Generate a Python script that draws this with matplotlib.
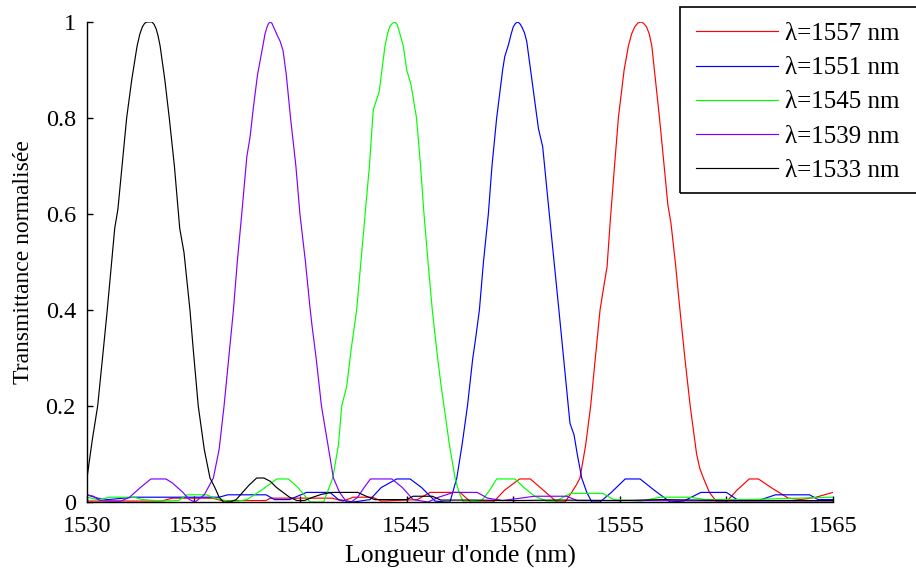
import matplotlib
matplotlib.use("Agg")
import matplotlib.pyplot as plt
from matplotlib.patches import Rectangle

plt.rcParams['font.family'] = ['Liberation Serif', 'DejaVu Serif']

# (wavelength nm, normalised transmittance)
black_pts = [
    (1530.0, 0.05), (1530.25, 0.13), (1530.5, 0.2), (1530.75, 0.31), (1530.95, 0.4),
    (1531.3, 0.57), (1531.45, 0.61), (1531.86, 0.8),
    (1532.1, 0.88), (1532.35, 0.95), (1532.48, 0.975), (1532.6, 0.99), (1532.7, 0.997),
    (1532.8, 1.0), (1533.05, 1.0), (1533.15, 0.995),
    (1533.25, 0.985), (1533.34, 0.97), (1533.43, 0.95), (1533.65, 0.88), (1533.86, 0.8),
    (1534.1, 0.7),
    (1534.35, 0.57), (1534.55, 0.52), (1534.83, 0.4), (1535.0, 0.31),
    (1535.22, 0.2), (1535.5, 0.11), (1535.77, 0.05), (1536.0, 0.03), (1536.2, 0.01),
    (1536.4, 0.0), (1536.7, 0.0), (1537.0, 0.005), (1537.3, 0.02), (1537.6, 0.035),
    (1537.96, 0.05), (1538.3, 0.05), (1538.6, 0.043), (1538.9, 0.03), (1539.2, 0.02),
    (1539.5, 0.01), (1539.85, 0.003), (1540.2, 0.003), (1540.6, 0.01), (1541.0, 0.016),
    (1541.5, 0.02), (1542.0, 0.02), (1542.7, 0.02), (1543.1, 0.012), (1543.5, 0.005),
    (1544.0, 0.005), (1545.0, 0.005), (1545.3, 0.012), (1546.2, 0.012), (1546.6, 0.004),
    (1548.0, 0.004), (1550.0, 0.003), (1552.0, 0.004), (1555.0, 0.003), (1557.0, 0.005),
    (1560.0, 0.003), (1565.0, 0.003),
]

purple_pts = [
    (1530.0, 0.015), (1530.3, 0.012), (1530.6, 0.003), (1531.0, 0.002), (1531.6, 0.002),
    (1532.0, 0.01), (1532.5, 0.03), (1533.0, 0.048), (1533.7, 0.048), (1534.0, 0.04),
    (1534.5, 0.02), (1534.8, 0.005), (1535.07, 0.0), (1535.5, 0.015), (1535.93, 0.05),
    (1536.2, 0.11), (1536.43, 0.2), (1536.65, 0.3), (1536.87, 0.4), (1537.05, 0.5),
    (1537.26, 0.6), (1537.5, 0.72), (1537.65, 0.76), (1537.8, 0.82), (1538.0, 0.89),
    (1538.25, 0.95), (1538.35, 0.975), (1538.45, 0.99), (1538.52, 0.997), (1538.6, 1.0),
    (1538.68, 0.997), (1538.75, 0.99), (1538.95, 0.97),
    (1539.06, 0.96), (1539.2, 0.94), (1539.35, 0.89), (1539.55, 0.8), (1539.8, 0.7),
    (1539.99, 0.6), (1540.25, 0.5), (1540.45, 0.41), (1540.55, 0.37), (1540.75, 0.3),
    (1541.0, 0.2), (1541.3, 0.12), (1541.56, 0.05), (1541.85, 0.02), (1542.18, 0.0),
    (1542.4, 0.0), (1542.7, 0.01), (1543.0, 0.03), (1543.3, 0.048), (1544.3, 0.048),
    (1544.8, 0.03), (1545.3, 0.005), (1546.0, 0.0), (1546.5, 0.01), (1547.2, 0.02),
    (1548.3, 0.02), (1548.8, 0.008), (1549.5, 0.003), (1551.0, 0.012), (1552.5, 0.012),
    (1553.0, 0.003), (1556.0, 0.003), (1560.0, 0.002), (1565.0, 0.002),
]

green_pts = [
    (1530.0, 0.01), (1530.5, 0.005), (1531.1, 0.01), (1532.2, 0.01), (1532.6, 0.005),
    (1533.5, 0.002), (1534.3, 0.003), (1534.68, 0.015), (1535.6, 0.015), (1536.0, 0.008),
    (1536.6, 0.002), (1537.1, 0.002), (1537.5, 0.005), (1538.2, 0.025), (1538.9, 0.048),
    (1539.45, 0.048), (1539.9, 0.03), (1540.46, 0.0), (1540.8, 0.0), (1541.1, 0.0),
    (1541.53, 0.05), (1541.8, 0.12), (1541.95, 0.2), (1542.18, 0.24), (1542.4, 0.32),
    (1542.65, 0.4), (1542.85, 0.5), (1543.05, 0.6), (1543.25, 0.7), (1543.43, 0.817),
    (1543.71, 0.855), (1543.98, 0.95), (1544.1, 0.975), (1544.2, 0.99), (1544.32, 0.997),
    (1544.45, 1.0), (1544.55, 0.995), (1544.65, 0.98),
    (1544.84, 0.95), (1545.0, 0.9), (1545.2, 0.87), (1545.46, 0.8), (1545.65, 0.7),
    (1545.81, 0.6), (1546.0, 0.5), (1546.2, 0.4), (1546.45, 0.3), (1546.62, 0.24),
    (1546.75, 0.2), (1547.0, 0.12), (1547.27, 0.05), (1547.45, 0.02), (1547.66, 0.0),
    (1548.0, 0.0), (1548.52, 0.003), (1548.9, 0.025), (1549.22, 0.048), (1550.08, 0.048),
    (1550.5, 0.03), (1551.0, 0.012), (1551.57, 0.002), (1552.0, 0.002), (1552.7, 0.018),
    (1554.2, 0.018), (1554.7, 0.005), (1556.0, 0.002), (1556.9, 0.01), (1558.3, 0.01),
    (1559.0, 0.005), (1561.0, 0.005), (1565.0, 0.01),
]

blue_pts = [
    (1530.0, 0.015), (1530.5, 0.008), (1531.0, 0.005), (1532.2, 0.01), (1536.2, 0.01),
    (1536.6, 0.015), (1538.4, 0.015), (1538.8, 0.005), (1539.5, 0.005), (1540.3, 0.02),
    (1541.4, 0.02), (1541.8, 0.005), (1542.5, 0.0), (1543.28, 0.005), (1543.8, 0.03),
    (1544.53, 0.048), (1545.16, 0.048), (1545.7, 0.03), (1546.33, 0.002), (1546.8, 0.0),
    (1547.03, 0.0), (1547.35, 0.05), (1547.6, 0.12), (1547.85, 0.2), (1548.1, 0.3),
    (1548.2, 0.33), (1548.41, 0.4), (1548.6, 0.5), (1548.83, 0.6), (1549.0, 0.7),
    (1549.22, 0.8), (1549.5, 0.9), (1549.6, 0.928), (1549.77, 0.952), (1549.9, 0.975),
    (1550.0, 0.99), (1550.1, 0.997), (1550.2, 1.0), (1550.3, 0.997), (1550.4, 0.99),
    (1550.52, 0.978), (1550.63, 0.96), (1551.18, 0.778), (1551.38, 0.74),
    (1551.69, 0.6), (1552.14, 0.4), (1552.58, 0.2), (1552.66, 0.164), (1552.85, 0.14),
    (1553.0, 0.1), (1553.21, 0.05), (1553.45, 0.02), (1553.68, 0.0), (1554.07, 0.0),
    (1554.6, 0.02), (1555.25, 0.048), (1555.95, 0.048), (1556.6, 0.025), (1557.36, 0.0),
    (1558.0, 0.002), (1558.8, 0.02), (1560.0, 0.02), (1560.5, 0.005), (1561.5, 0.003),
    (1562.3, 0.015), (1563.9, 0.015), (1564.3, 0.005), (1565.0, 0.005),
]

red_pts = [
    (1530.0, 0.002), (1533.5, 0.002), (1534.0, 0.008), (1535.9, 0.008), (1536.3, 0.003),
    (1538.4, 0.003), (1538.6, 0.008), (1541.5, 0.008), (1542.0, 0.002), (1542.5, 0.01),
    (1543.4, 0.01), (1543.8, 0.002), (1545.5, 0.005), (1546.1, 0.02), (1547.5, 0.02),
    (1548.0, 0.0), (1549.07, 0.0), (1549.6, 0.025), (1550.3, 0.048), (1550.8, 0.048),
    (1551.4, 0.025), (1552.04, 0.0), (1552.43, 0.0), (1552.74, 0.02), (1552.95, 0.035),
    (1553.13, 0.05), (1553.4, 0.12), (1553.63, 0.2), (1553.85, 0.3), (1554.07, 0.4),
    (1554.25, 0.45), (1554.4, 0.49), (1554.54, 0.58), (1554.75, 0.7), (1554.93, 0.8),
    (1555.2, 0.9), (1555.4, 0.95), (1555.55, 0.975), (1555.7, 0.99), (1555.85, 0.998),
    (1556.0, 1.0), (1556.12, 0.997), (1556.25, 0.99), (1556.38, 0.975),
    (1556.5, 0.95), (1556.86, 0.8), (1557.1, 0.69), (1557.25, 0.62), (1557.4, 0.58),
    (1557.6, 0.5), (1557.82, 0.4), (1558.05, 0.3), (1558.3, 0.2), (1558.6, 0.1),
    (1558.75, 0.07), (1558.92, 0.05), (1559.2, 0.02), (1559.55, 0.0), (1559.99, 0.0),
    (1560.5, 0.025), (1561.07, 0.048), (1561.5, 0.048), (1562.1, 0.03), (1562.9, 0.008),
    (1563.5, 0.005), (1564.2, 0.01), (1565.0, 0.02),
]

series = [
    (red_pts, '#ff0000', 'λ=1557 nm'),
    (blue_pts, '#0000ff', 'λ=1551 nm'),
    (green_pts, '#00ff00', 'λ=1545 nm'),
    (purple_pts, '#8000ff', 'λ=1539 nm'),
    (black_pts, '#000000', 'λ=1533 nm'),
]

x_ticks = [1530, 1535, 1540, 1545, 1550, 1555, 1560, 1565]
y_ticks = [0, 0.2, 0.4, 0.6, 0.8, 1]
y_tick_labels = ['0', '0.2', '0.4', '0.6', '0.8', '1']

W, H = 916, 572
fig = plt.figure(figsize=(W / 100, H / 100), dpi=100)
ax = fig.add_axes([87/W, 70/H, (833-87)/W, (502-22)/H])

for pts, col, lab in series:
    xs = [p[0] for p in pts]
    ys = [p[1] for p in pts]
    ax.plot(xs, ys, color=col, lw=0.85, label=lab)

ax.set_xlim(1530, 1565)
ax.set_ylim(0, 1)
ax.set_xticks(x_ticks)
ax.set_yticks(y_ticks)
ax.set_yticklabels(y_tick_labels)
ax.tick_params(direction='in', length=4, width=1, labelsize=17.5)
ax.tick_params(axis='x', pad=10)
ax.tick_params(axis='y', pad=8)
ax.spines['top'].set_visible(False)
ax.spines['right'].set_visible(False)
for s in ['left', 'bottom']:
    ax.spines[s].set_linewidth(1.0)
ax.set_xlabel("Longueur d'onde (nm)", fontsize=18.5, labelpad=6)
ax.set_ylabel("Transmittance normalisée", fontsize=17, labelpad=8)

# legend box (cut by the right edge of the figure, as in the reference)
fig.patches.append(Rectangle((680/W, 1 - 193/H), 260/W, (193-7)/H,
                             transform=fig.transFigure, fill=False,
                             edgecolor='black', linewidth=1.2, zorder=5))
leg = fig.legend(loc='upper left', bbox_to_anchor=(680/W, 1 - 7/H),
                 fontsize=18, frameon=False,
                 handlelength=3.3, handletextpad=0.28, labelspacing=0.47,
                 borderpad=0.62, borderaxespad=0)

fig.savefig('out.png', dpi=100)
